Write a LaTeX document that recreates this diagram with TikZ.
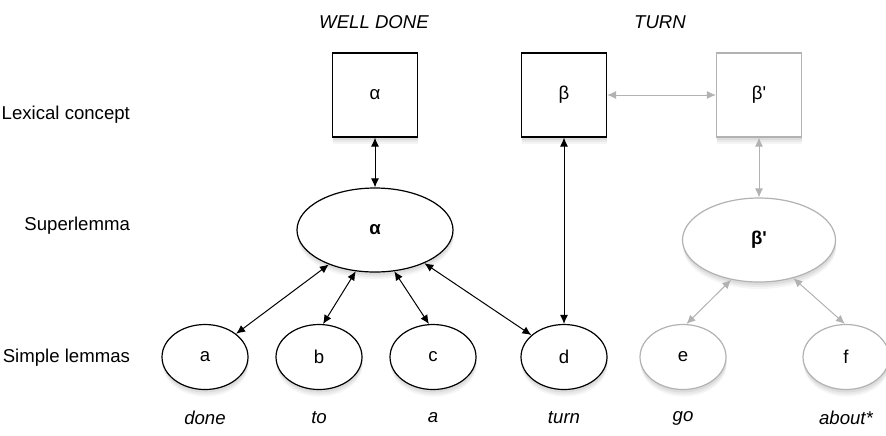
\documentclass[tikz,border=0pt]{standalone}
\usepackage{fontspec}
\setmainfont{Liberation Sans}
\usetikzlibrary{arrows.meta,positioning,shapes.geometric,shadows}
\definecolor{fadegray}{gray}{0.7}

\begin{document}
\begin{tikzpicture}[x=0.5pt,y=-0.5pt,node distance=30.5pt,on grid,
  every node/.style={font=\fontsize{9.3}{11}\selectfont},
  >={Latex[length=4.5pt,width=4pt]},
  nodeshadow/.style={drop shadow={shadow xshift=0.3pt,shadow yshift=-3.5pt,opacity=.08},
                     drop shadow={shadow xshift=0.3pt,shadow yshift=-2.5pt,opacity=.1},
                     drop shadow={shadow xshift=0.2pt,shadow yshift=-1.5pt,opacity=.12}},
  concept/.style={rectangle,draw,line width=0.6pt,fill=white,minimum width=42.5pt,minimum height=42pt,nodeshadow},
  superlemma/.style={ellipse,draw,line width=0.6pt,fill=white,minimum width=78pt,minimum height=42pt,nodeshadow},
  lemma/.style={ellipse,draw,line width=0.6pt,fill=white,minimum width=43pt,minimum height=32.5pt,nodeshadow},
  faded/.style={draw=fadegray},
  word/.style={font=\fontsize{9.3}{11}\selectfont\itshape},
  rowlabel/.style={anchor=east}]
  \useasboundingbox (0,0) rectangle (886,435);

% row labels
  \node[rowlabel] (lexlabel)    at (137,115) {Lexical concept};
  \node[rowlabel] (superlabel)  at (137,226) {Superlemma};
  \node[rowlabel] (simplelabel) at (137,358) {Simple lemmas};

% idioms
  \node[word] (welldone)  at (374,22) {WELL DONE};
  \node[word] (turnidiom) at (660,22) {TURN};

% lexical concepts and superlemmas
  \node[concept]       (conA)  at (375,95) {α};
  \node[concept]       (conB)  at (564,95) {β};
  \node[concept,faded] (conB2) at (759,95) {β\textquotesingle};
  \node[superlemma]    (supA)  at (375,230) {\textbf{α}};
  \node[superlemma,faded,minimum width=76.5pt] (supB2) at (759,240) {\textbf{β\textquotesingle}};

% simple lemmas
  \node[lemma]       (a) at (205,357) {a};
  \node[lemma]       (b) at (319,357) {b};
  \node[lemma]       (c) at (433,357) {c};
  \node[lemma]       (d) at (564,357) {d};
  \node[lemma,faded] (e) at (683,357) {e};
  \node[lemma,faded] (f) at (846,357) {f};

  \node[word] (wa) [below=of a] {done};
  \node[word] (wb) [below=of b] {to};
  \node[word] (wc) [below=of c] {a};
  \node[word] (wd) [below=of d] {turn};
  \node[word] (we) [below=of e] {go};
  \node[word] (wf) [below=of f] {about*};

  \path[<->,line width=0.5pt]
    (conA)      edge  (supA)
    (supA)      edge  (a)
    (supA.245)  edge  (b.83)
    (supA.295)  edge  (c.97)
    (supA)      edge  (d)
    (conB)      edge  (d);
  \path[<->,line width=0.5pt,fadegray]
    (conB)      edge  (conB2)
    (conB2)     edge  (supB2)
    (supB2.235) edge  (e.84)
    (supB2.312) edge  (f.92);
\end{tikzpicture}
\end{document}
